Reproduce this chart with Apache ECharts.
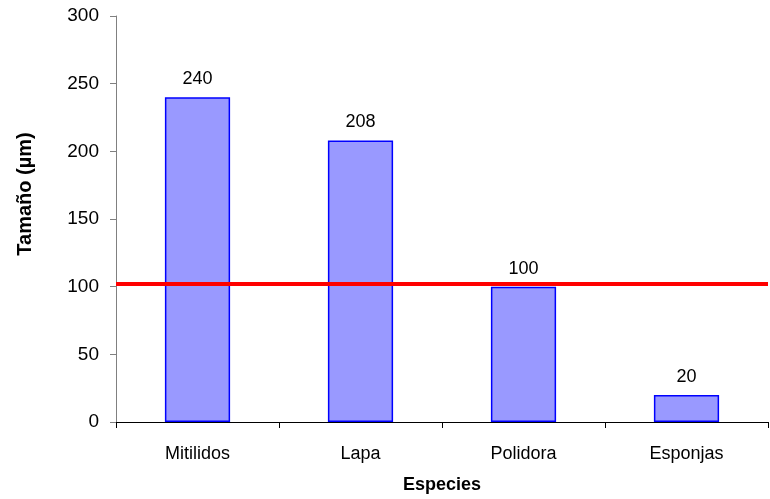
<!DOCTYPE html>
<html>
<head>
<meta charset="utf-8">
<script src="https://cdn.jsdelivr.net/npm/echarts@6/dist/echarts.min.js"></script>
<style>html,body{margin:0;padding:0;background:#fff;}#c{width:770px;height:499px;}</style>
</head>
<body>
<div id="c"></div>
<script>
const categories = ['Mitilidos', 'Lapa', 'Polidora', 'Esponjas'];
const sizes = [240, 208, 100, 20];
const thresholdValue = [102];
const yTicks = [0, 50, 100, 150, 200, 250, 300];

const chart = echarts.init(document.getElementById('c'), null, {renderer: 'canvas'});
const font = 'Arial, "Liberation Sans", sans-serif';
chart.setOption({
  animation: false,
  backgroundColor: '#ffffff',
  grid: {left: 116, right: 2, top: 16, bottom: 77, containLabel: false},
  xAxis: {
    type: 'category',
    data: categories,
    name: 'Especies',
    nameLocation: 'middle',
    nameGap: 54,
    nameTextStyle: {fontFamily: font, fontSize: 18, fontWeight: 'bold', color: '#000'},
    axisLine: {show: true, lineStyle: {color: '#000', width: 1}},
    axisTick: {show: true, alignWithLabel: false, length: 6, lineStyle: {color: '#000'}},
    axisLabel: {fontFamily: font, fontSize: 18, color: '#000', margin: 23}
  },
  yAxis: {
    type: 'value',
    min: yTicks[0],
    max: yTicks[yTicks.length - 1],
    interval: yTicks[1] - yTicks[0],
    name: 'Tamaño (µm)',
    nameLocation: 'middle',
    nameGap: 81,
    nameTextStyle: {fontFamily: font, fontSize: 20, fontWeight: 'bold', color: '#000', padding: [0, 0, 0, 50]},
    axisLine: {show: true, lineStyle: {color: '#808080', width: 1}},
    axisTick: {show: true, length: 6, lineStyle: {color: '#808080'}},
    axisLabel: {fontFamily: font, fontSize: 19, color: '#000', margin: 17},
    splitLine: {show: false}
  },
  series: [{
    type: 'bar',
    data: sizes,
    barWidth: '40%',
    itemStyle: {color: '#9999FF', borderColor: '#0000FF', borderWidth: 1.5},
    label: {show: true, position: 'top', distance: 9, fontFamily: font, fontSize: 18, color: '#000'},
    markLine: {
      silent: true,
      symbol: ['none', 'none'],
      label: {show: false},
      lineStyle: {color: '#FF0000', width: 4, type: 'solid'},
      data: [{yAxis: thresholdValue[0]}]
    }
  }]
});
</script>
</body>
</html>
